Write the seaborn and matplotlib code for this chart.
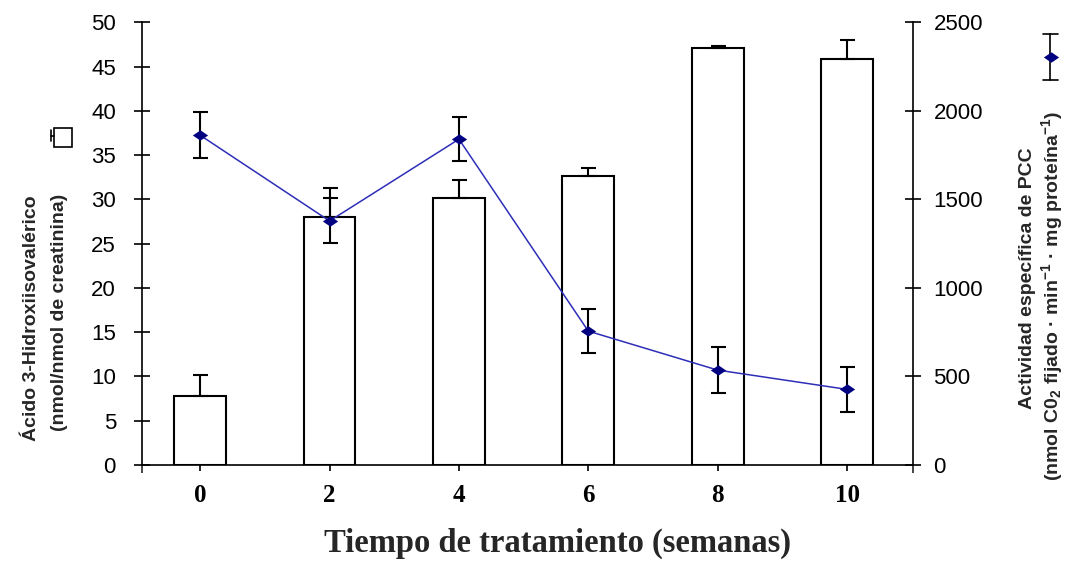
import numpy as np
import pandas as pd
import matplotlib
matplotlib.use("Agg")
import matplotlib.pyplot as plt
from matplotlib.patches import Rectangle
from matplotlib.lines import Line2D
from matplotlib.path import Path
import seaborn as sns

# Semanas de tratamiento (categorías del eje X)
semanas = ["0", "2", "4", "6", "8", "10"]
# Ácido 3-hidroxiisovalérico (nmol/nmol de creatinina), media y error
acido_3hiva = [7.8, 28.0, 30.2, 32.6, 47.1, 45.8]
acido_err = [2.4, 3.3, 2.0, 0.9, 0.2, 2.2]
# Actividad específica de PCC, media y error
actividad_pcc = [1862, 1378, 1840, 756, 536, 427]
actividad_err = [130, 127, 125, 125, 130, 125]
# Marcas de los ejes Y
ticks_izq = list(range(0, 51, 5))
ticks_der = list(range(0, 2501, 500))

df = pd.DataFrame({"semana": semanas, "acido": acido_3hiva, "pcc": actividad_pcc})

sns.set_style("ticks")
plt.rcParams["font.family"] = ["Liberation Sans", "DejaVu Sans"]
plt.rcParams["mathtext.fontset"] = "custom"
plt.rcParams["mathtext.rm"] = "Liberation Sans:bold"
plt.rcParams["mathtext.bf"] = "Liberation Sans:bold"
plt.rcParams["mathtext.it"] = "Liberation Sans:bold"
plt.rcParams["mathtext.default"] = "bf"

W, H = 1067, 561
fig = plt.figure(figsize=(W / 100, H / 100), dpi=100)
fig.patch.set_facecolor("white")


def fx(x):
    return x / W


def fy(y):
    return 1 - y / H


ax = fig.add_axes([fx(142), fy(465), (913 - 142) / W, (465 - 22.3) / H])

# Barras: ácido 3-hidroxiisovalérico
sns.barplot(data=df, x="semana", y="acido", ax=ax, color="white",
            edgecolor="black", linewidth=1.5, width=0.4, errorbar=None,
            saturation=1)
pos = np.arange(len(semanas))
ax.errorbar(pos, acido_3hiva, yerr=[np.zeros(len(pos)), acido_err],
            fmt="none", ecolor="black", elinewidth=1.5, capsize=5.4,
            capthick=1.5, zorder=3)

# Línea: actividad específica de PCC (eje derecho)
ax2 = ax.twinx()
ax2.errorbar(pos, actividad_pcc, yerr=actividad_err, fmt="none",
             ecolor="black", elinewidth=1.5, capsize=5.4, capthick=1.5,
             zorder=2)
lineas_previas = list(ax2.lines)
sns.pointplot(data=df, x="semana", y="pcc", ax=ax2, color="#2e2eb8",
              markers="D", linestyles="-", errorbar=None, linewidth=1.1,
              markersize=8, markeredgewidth=0, zorder=3)

diamante = Path([(-1, 0), (0, 0.68), (1, 0), (0, -0.68), (-1, 0)],
                [Path.MOVETO, Path.LINETO, Path.LINETO, Path.LINETO,
                 Path.CLOSEPOLY])
for ln in ax2.lines:
    if ln in lineas_previas:
        continue
    ln.set_marker(diamante)
    ln.set_markersize(11)
    ln.set_markerfacecolor("#000080")
    ln.set_markeredgecolor("#000080")

ax.set_xlabel("")
ax.set_ylabel("")
ax2.set_xlabel("")
ax2.set_ylabel("")

ax.set_ylim(0, 50)
ax.set_yticks(ticks_izq)
ax2.set_ylim(0, 2500)
ax2.set_yticks(ticks_der)
ax.set_xlim(-0.45, 5.51)
ax.set_xticks(pos)
ax.set_xticklabels(semanas)

for a in (ax, ax2):
    a.spines["top"].set_visible(False)
    for s in a.spines.values():
        s.set_linewidth(1.2)
        s.set_color("black")
ax.spines["right"].set_visible(False)
ax2.spines["left"].set_visible(False)
ax2.spines["bottom"].set_visible(False)
ax2.spines["right"].set_visible(True)

ax.tick_params(axis="y", direction="inout", length=11.5, width=1.2,
               labelsize=16, pad=13, colors="black")
ax2.tick_params(axis="y", direction="inout", length=11.5, width=1.2,
                labelsize=16, pad=9, colors="black")
ax.tick_params(axis="x", direction="out", length=4.5, width=1.2, pad=9,
               colors="black")
# Marcas en los extremos del eje X
x0, x1 = ax.get_xlim()
ax.set_xticks([x0, x1], minor=True)
ax.tick_params(axis="x", which="minor", direction="out", length=5.5,
               width=1.2)
for lbl in ax.get_xticklabels():
    lbl.set_fontfamily("Liberation Serif")
    lbl.set_fontweight("bold")
    lbl.set_fontsize(18)

# Títulos de ejes
fig.text(fx(558), fy(543), "Tiempo de tratamiento (semanas)",
         fontfamily="Liberation Serif", fontweight="bold", fontsize=23.5,
         ha="center", va="center")
fig.text(fx(32), fy(318), "Ácido 3-Hidroxiisovalérico", rotation=90,
         fontweight="bold", fontsize=14, ha="center", va="center")
fig.text(fx(60), fy(312), "(nmol/nmol de creatinina)", rotation=90,
         fontweight="bold", fontsize=14, ha="center", va="center")
fig.text(fx(1028), fy(278), "Actividad específica de PCC", rotation=90,
         fontweight="bold", fontsize=14, ha="center", va="center")
fig.text(fx(1052), fy(296),
         r"(nmol C0$_{2}$ fijado · min$^{-1}$ · mg proteína$^{-1}$)",
         rotation=90, fontweight="bold", fontsize=14, ha="center",
         va="center")

# Símbolo de la serie de barras junto al título izquierdo
fig.add_artist(Rectangle((fx(54), fy(147)), (72 - 54) / W, (147 - 128) / H,
                         transform=fig.transFigure, facecolor="white",
                         edgecolor="black", linewidth=1.2))
fig.add_artist(Line2D([fx(51), fx(54)], [fy(136), fy(136)],
                      transform=fig.transFigure, color="black", lw=1.2))
fig.add_artist(Line2D([fx(51), fx(51)], [fy(130), fy(141)],
                      transform=fig.transFigure, color="black", lw=1.2))

# Símbolo de la serie de línea junto al título derecho
fig.add_artist(Line2D([fx(1050), fx(1050)], [fy(34), fy(80)],
                      transform=fig.transFigure, color="black", lw=1.2))
for yy in (34, 80):
    fig.add_artist(Line2D([fx(1043), fx(1058)], [fy(yy), fy(yy)],
                          transform=fig.transFigure, color="black", lw=1.2))
fig.add_artist(Line2D([fx(1051)], [fy(57)], transform=fig.transFigure,
                      marker=diamante, markersize=11, color="#000080",
                      markeredgewidth=0, linestyle="none"))

fig.savefig("out.png", dpi=100, facecolor="white")
